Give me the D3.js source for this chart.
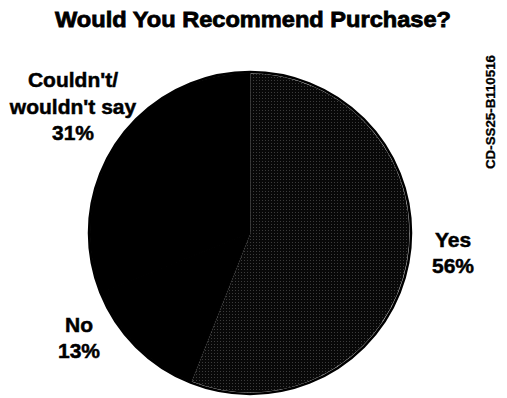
<!DOCTYPE html>
<html>
<head>
<meta charset="utf-8">
<script src="https://cdn.jsdelivr.net/npm/d3@7"></script>
<style>
  body { margin: 0; background: #fff; }
  text { font-family: "Liberation Sans", Arial, sans-serif; font-weight: bold; fill: #000; stroke: #000; stroke-width: 0.5px; }
</style>
</head>
<body>
<div id="chart"></div>
<script>
const categories = ["Yes", "No", "Couldn't/wouldn't say"];
const values = [56, 13, 31];
const labelLines = [["Yes", "56%"], ["No", "13%"], ["Couldn't/", "wouldn't say", "31%"]];

const width = 507, height = 398;
const cx = 250, cy = 233, radius = 160;

const svg = d3.select("#chart").append("svg")
  .attr("width", width)
  .attr("height", height);

// stippled dark fill for the "Yes" slice
const pattern = svg.append("defs").append("pattern")
  .attr("id", "stipple")
  .attr("patternUnits", "userSpaceOnUse")
  .attr("width", 3)
  .attr("height", 3);
pattern.append("rect").attr("width", 3).attr("height", 3).attr("fill", "#080808");
pattern.append("rect").attr("width", 1).attr("height", 1).attr("fill", "#3c3c3c");

svg.append("text")
  .attr("x", 253)
  .attr("y", 27)
  .attr("text-anchor", "middle")
  .attr("textLength", 396)
  .attr("lengthAdjust", "spacingAndGlyphs")
  .style("font-size", "22px")
  .style("stroke-width", "0.8px")
  .text("Would You Recommend Purchase?");

const pie = d3.pie().sort(null).value((d) => d.value);
const arcs = pie(categories.map((c, i) => ({ name: c, value: values[i] })));
const arc = d3.arc().innerRadius(0).outerRadius(radius);

const g = svg.append("g").attr("transform", `translate(${cx},${cy})`);

g.selectAll("path.slice")
  .data(arcs)
  .join("path")
  .attr("class", "slice")
  .attr("d", arc)
  .attr("fill", (d, i) => (i === 0 ? "url(#stipple)" : "#000"))
  .attr("stroke", (d, i) => (i === 0 ? "#d8d8d8" : "#000"))
  .attr("stroke-width", 1.2)
  .attr("stroke-linejoin", "round");

// black outer rim
g.append("circle")
  .attr("r", radius + 1)
  .attr("fill", "none")
  .attr("stroke", "#000")
  .attr("stroke-width", 2.5);

// labels, placed outside the pie
const labelPos = [
  { x: 453, y: 247 },
  { x: 79, y: 332 },
  { x: 73, y: 87 },
];
const lineGap = [26, 26, 26.5];

labelLines.forEach((lines, i) => {
  const t = svg.append("text")
    .attr("text-anchor", "middle")
    .style("font-size", "21px");
  lines.forEach((s, j) => {
    t.append("tspan")
      .attr("x", labelPos[i].x)
      .attr("y", labelPos[i].y + j * lineGap[i])
      .text(s);
  });
});

// document code along the right edge
svg.append("text")
  .attr("transform", "translate(495,112) rotate(-90)")
  .attr("text-anchor", "middle")
  .attr("textLength", 114)
  .attr("lengthAdjust", "spacingAndGlyphs")
  .style("font-size", "12px")
  .style("stroke-width", "0.3px")
  .text("CD-SS25-B110516");
</script>
</body>
</html>
